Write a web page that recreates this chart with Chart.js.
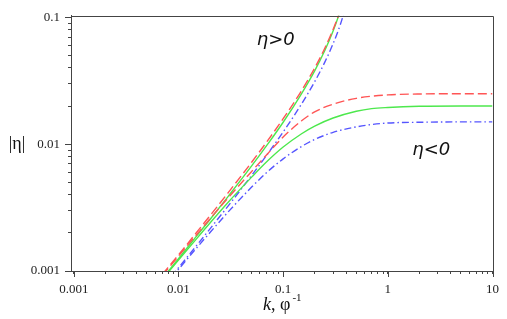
<!DOCTYPE html>
<html>
<head>
<meta charset="utf-8">
<script src="https://cdn.jsdelivr.net/npm/chart.js@4.4.1/dist/chart.umd.min.js"></script>
<style>
    html, body { margin: 0; padding: 0; background: #fff; }
    #wrap { width: 507px; height: 319px; }
</style>
</head>
<body>
<div id="wrap"><canvas id="etaChart" width="507" height="319"></canvas></div>
<script>
// |eta| vs k, log-log; upper branch eta>0, lower branch eta<0
const kUpper = [0.007, 0.01, 0.015, 0.02, 0.03, 0.05, 0.07, 0.1, 0.15, 0.2, 0.25, 0.3, 0.35, 0.4];
const redUpper = [0.00094, 0.00134, 0.00203, 0.00273, 0.00417, 0.00721, 0.01048, 0.0159, 0.0265, 0.0399, 0.0572, 0.0804, 0.113, 0.163];
const greenUpper = [0.00087, 0.00125, 0.0019, 0.00255, 0.0039, 0.00674, 0.00982, 0.0149, 0.0251, 0.0379, 0.0548, 0.078, 0.112, 0.166];
const blueUpper = [0.00074, 0.00106, 0.0016, 0.00215, 0.00328, 0.00567, 0.00824, 0.0125, 0.0208, 0.0311, 0.0444, 0.0621, 0.0868, 0.124];

const kLower = [0.007, 0.01, 0.015, 0.02, 0.03, 0.05, 0.07, 0.1, 0.15, 0.2, 0.3, 0.5, 0.7, 1, 2, 5, 10];
const redLower = [0.00092, 0.00131, 0.00195, 0.00258, 0.0038, 0.0061, 0.0083, 0.0114, 0.0153, 0.018, 0.0207, 0.023, 0.0239, 0.0245, 0.0249, 0.025, 0.025];
const greenLower = [0.00086, 0.00122, 0.00181, 0.00239, 0.0035, 0.0055, 0.0073, 0.0095, 0.0121, 0.0139, 0.0161, 0.0182, 0.0191, 0.0195, 0.0199, 0.02, 0.02];
const blueLower = [0.00072, 0.00103, 0.00153, 0.00201, 0.00294, 0.00459, 0.006, 0.00767, 0.0096, 0.0109, 0.0124, 0.0137, 0.0143, 0.0147, 0.0149, 0.015, 0.015];

const xMajor = [0.001, 0.01, 0.1, 1, 10];
const yMajor = [0.001, 0.01, 0.1];

const RED = '#ff5555';
const GREEN = '#4de84d';
const BLUE = '#5555ff';

function pairs(ks, vals) {
    return ks.map((k, i) => ({ x: k, y: vals[i] }));
}

function makeSet(ks, vals, color, dash) {
    return {
        data: pairs(ks, vals),
        borderColor: color,
        borderWidth: 1.4,
        borderDash: dash,
        pointRadius: 0,
        fill: false,
        cubicInterpolationMode: 'monotone'
    };
}

function decadeLabel(v) {
    const lg = Math.log10(v);
    const e = Math.round(lg);
    if (Math.abs(lg - e) < 1e-6) return e < 0 ? v.toFixed(-e) : String(Math.pow(10, e));
    const m = v / Math.pow(10, Math.floor(lg + 1e-9));
    if (Math.abs(m - Math.round(m)) > 1e-6) return null;
    return '';
}

const annotations = {
    id: 'annotations',
    afterDraw(chart) {
        const { ctx, chartArea: a, scales: { x, y } } = chart;
        ctx.save();
        ctx.strokeStyle = '#444';
        ctx.lineWidth = 1;
        ctx.beginPath();
        // top + right frame
        ctx.moveTo(a.left, Math.round(a.top) + 0.5);
        ctx.lineTo(Math.round(a.right) + 0.5, Math.round(a.top) + 0.5);
        ctx.lineTo(Math.round(a.right) + 0.5, a.bottom);
        // longer major ticks
        xMajor.forEach(v => {
            const px = Math.round(x.getPixelForValue(v)) + 0.5;
            ctx.moveTo(px, a.bottom);
            ctx.lineTo(px, a.bottom + 6);
        });
        yMajor.forEach(v => {
            const py = Math.round(y.getPixelForValue(v)) + 0.5;
            ctx.moveTo(a.left - 6, py);
            ctx.lineTo(a.left, py);
        });
        ctx.stroke();

        ctx.fillStyle = '#111';
        ctx.textAlign = 'center';
        ctx.textBaseline = 'middle';
        ctx.font = 'italic 18px "DejaVu Sans"';
        ctx.fillText('η>0', x.getPixelForValue(0.085), y.getPixelForValue(0.066));
        ctx.fillText('η<0', x.getPixelForValue(2.6), y.getPixelForValue(0.0089));

        // y title
        ctx.font = '18px "Liberation Serif"';
        ctx.fillText('|η|', 17, y.getPixelForValue(0.01));

        // x title: k, φ^-1
        ctx.textAlign = 'left';
        ctx.textBaseline = 'alphabetic';
        let tx = 263;
        const ty = 310;
        ctx.font = 'italic 18px "Liberation Serif"';
        ctx.fillText('k', tx, ty);
        tx += ctx.measureText('k').width;
        ctx.font = '18px "Liberation Serif"';
        ctx.fillText(', φ', tx, ty);
        tx += ctx.measureText(', φ').width + 2;
        ctx.font = '11px "Liberation Serif"';
        ctx.fillText('-1', tx, ty - 9);
        ctx.restore();
    }
};

const axisStyle = {
    grid: { display: true, drawOnChartArea: false, drawTicks: true, tickLength: 3, tickColor: '#444', color: '#444' },
    border: { display: true, color: '#444', width: 1 }
};

new Chart(document.getElementById('etaChart').getContext('2d'), {
    type: 'line',
    data: {
        datasets: [
            makeSet(kUpper, redUpper, RED, [9, 4]),
            makeSet(kLower, redLower, RED, [9, 4]),
            makeSet(kUpper, greenUpper, GREEN, []),
            makeSet(kLower, greenLower, GREEN, []),
            makeSet(kUpper, blueUpper, BLUE, [7, 3, 1.5, 3]),
            makeSet(kLower, blueLower, BLUE, [7, 3, 1.5, 3])
        ]
    },
    options: {
        responsive: false,
        animation: false,
        layout: { padding: { top: 10, right: 10, left: 0, bottom: 0 } },
        plugins: { legend: { display: false }, tooltip: { enabled: false } },
        scales: {
            x: {
                type: 'logarithmic',
                min: 0.00094,
                max: 10,
                ...axisStyle,
                afterFit: s => { s.height = 48; },
                ticks: {
                    autoSkip: false,
                    maxRotation: 0,
                    padding: 8,
                    color: '#222',
                    font: { family: 'Liberation Serif', size: 13 },
                    callback: v => decadeLabel(v)
                }
            },
            y: {
                type: 'logarithmic',
                min: 0.001,
                max: 0.103,
                ...axisStyle,
                afterFit: s => { s.width = 71; },
                ticks: {
                    autoSkip: false,
                    padding: 8,
                    color: '#222',
                    font: { family: 'Liberation Serif', size: 13 },
                    callback: v => decadeLabel(v)
                }
            }
        }
    },
    plugins: [annotations]
});
</script>
</body>
</html>
